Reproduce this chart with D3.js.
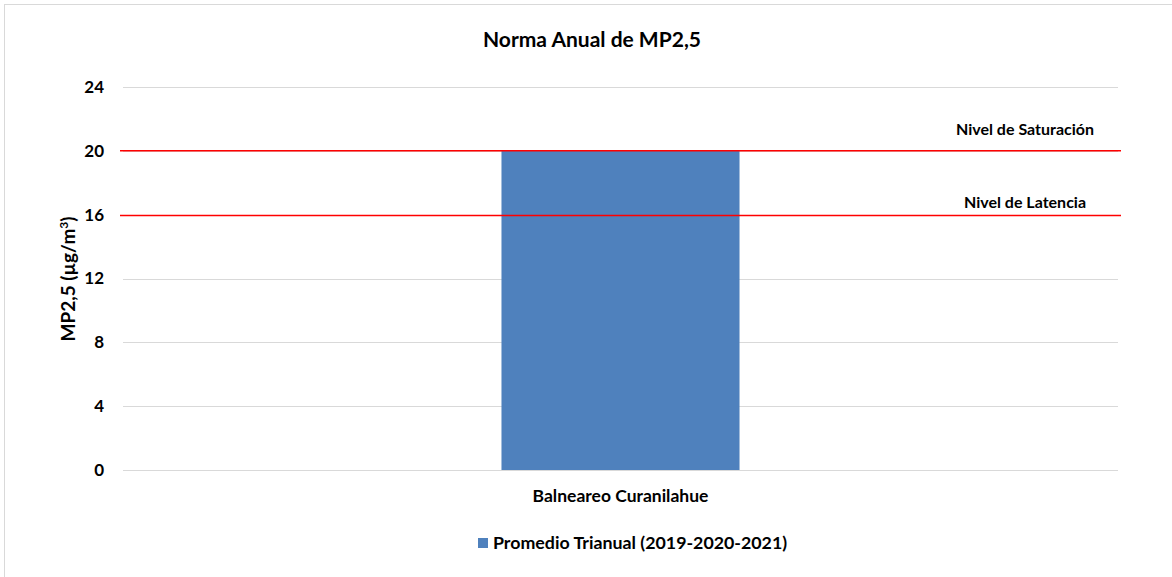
<!DOCTYPE html>
<html>
<head>
<meta charset="utf-8">
<script src="https://cdn.jsdelivr.net/npm/d3@7"></script>
<style>
  body { margin: 0; background: #fff; }
  text { font-family: Lato, "Open Sans", sans-serif; font-weight: bold; fill: #000; }
</style>
</head>
<body>
<div id="chart"></div>
<script>
const categories = ["Balneareo Curanilahue"];
const seriesName = "Promedio Trianual (2019-2020-2021)";
const seriesValues = [20.0];
const yTicks = [0, 4, 8, 12, 16, 20, 24];
const limitNames = ["Nivel de Saturación", "Nivel de Latencia"];
const limitValues = [20, 15.95];

const width = 1172, height = 577;
const margin = { top: 87, right: 54, bottom: 107, left: 123 };

const svg = d3.select("#chart")
    .append("svg")
    .attr("width", width)
    .attr("height", height);

// outer frame (only top/left edges show in the picture)
svg.append("rect")
    .attr("x", 4.5).attr("y", 4.5)
    .attr("width", 1200).attr("height", 600)
    .attr("fill", "none")
    .attr("stroke", "#d9d9d9");

const x = d3.scaleBand()
    .domain(categories)
    .range([margin.left, width - margin.right])
    .paddingInner(0)
    .paddingOuter(1.59);

const y = d3.scaleLinear()
    .domain([0, 24])
    .range([height - margin.bottom, margin.top]);

// gridlines
svg.append("g")
    .selectAll("line")
    .data(yTicks)
    .join("line")
    .attr("x1", margin.left)
    .attr("x2", width - margin.right)
    .attr("y1", d => Math.round(y(d)) + 0.5)
    .attr("y2", d => Math.round(y(d)) + 0.5)
    .attr("stroke", "#d9d9d9")
    .attr("stroke-width", 1);

// y tick labels
svg.append("g")
    .selectAll("text")
    .data(yTicks)
    .join("text")
    .attr("x", 104)
    .attr("y", d => y(d))
    .attr("dy", "0.35em")
    .attr("text-anchor", "end")
    .style("font-size", "17px")
    .text(d => d);

// bars
svg.append("g")
    .selectAll("rect")
    .data(seriesValues)
    .join("rect")
    .attr("x", (d, i) => x(categories[i]))
    .attr("width", x.bandwidth())
    .attr("y", d => y(d))
    .attr("height", d => y(0) - y(d))
    .attr("fill", "#4f81bd");

// limit lines
svg.append("g")
    .selectAll("line")
    .data(limitValues)
    .join("line")
    .attr("x1", margin.left - 3)
    .attr("x2", width - margin.right + 3)
    .attr("y1", d => y(d))
    .attr("y2", d => y(d))
    .attr("stroke", "#ff0000")
    .attr("stroke-width", 1.5);

// labels sit a bit above their line (saturation one higher)
const labelOffsets = [21, 13];
svg.append("g")
    .selectAll("text")
    .data(limitNames)
    .join("text")
    .attr("x", 1025)
    .attr("y", (d, i) => y(limitValues[i]) - labelOffsets[i])
    .attr("dy", "0.35em")
    .attr("text-anchor", "middle")
    .style("font-size", "16px")
    .text(d => d);

// category labels
svg.append("g")
    .selectAll("text")
    .data(categories)
    .join("text")
    .attr("x", d => x(d) + x.bandwidth() / 2)
    .attr("y", 496)
    .attr("dy", "0.35em")
    .attr("text-anchor", "middle")
    .style("font-size", "17.5px")
    .text(d => d);

// title
svg.append("text")
    .attr("x", 592)
    .attr("y", 40)
    .attr("dy", "0.35em")
    .attr("text-anchor", "middle")
    .style("font-size", "21px")
    .text("Norma Anual de MP2,5");

// y axis title
const yTitle = svg.append("text")
    .attr("transform", "translate(68," + 279 + ") rotate(-90)")
    .attr("dy", "0.35em")
    .attr("text-anchor", "middle")
    .style("font-size", "19px");
yTitle.append("tspan").text("MP2,5 (µg/m");
yTitle.append("tspan").attr("baseline-shift", "super").style("font-size", "12px").text("3");
yTitle.append("tspan").text(")");

// legend
const legend = svg.append("g").attr("transform", "translate(478,543)");
legend.append("rect")
    .attr("x", 0).attr("y", -5)
    .attr("width", 10).attr("height", 10)
    .attr("fill", "#4f81bd");
legend.append("text")
    .attr("x", 15)
    .attr("y", 0)
    .attr("dy", "0.35em")
    .style("font-size", "17.8px")
    .text(seriesName);
</script>
</body>
</html>
